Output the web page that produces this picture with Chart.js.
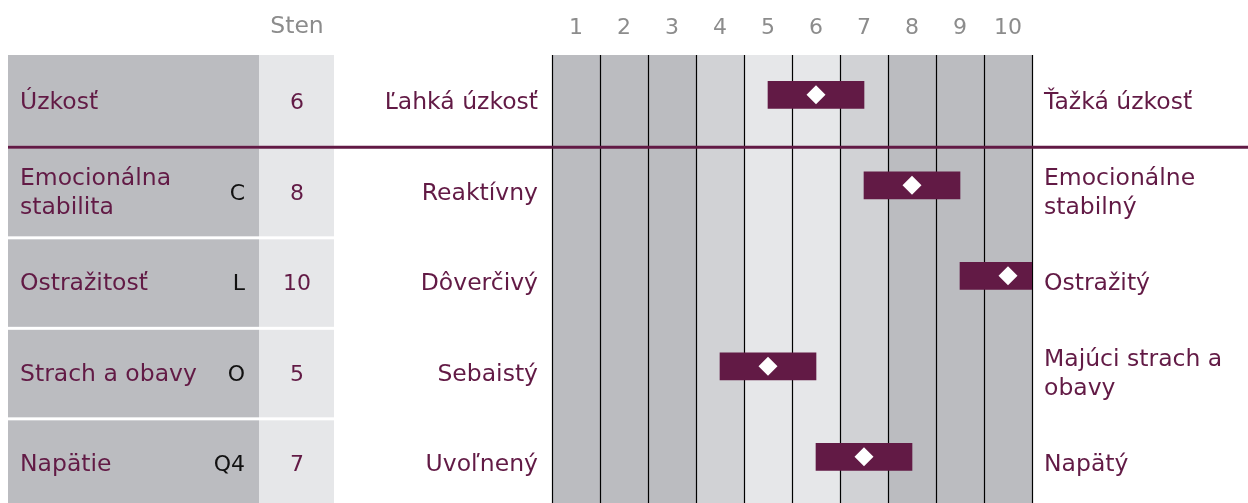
<!DOCTYPE html>
<html>
<head>
<meta charset="utf-8">
<script src="https://cdn.jsdelivr.net/npm/chart.js@4.4.0/dist/chart.umd.min.js"></script>
<style>
    html, body { margin: 0; padding: 0; background: #fff; }
    #wrap { width: 1248px; height: 503px; }
</style>
</head>
<body>
<div id="wrap"><canvas id="grafSten" width="1248" height="503"></canvas></div>
<script>
// Dados do perfil
const traits = [['Úzkosť'], ['Emocionálna', 'stabilita'], ['Ostražitosť'], ['Strach a obavy'], ['Napätie']];
const codes = ['', 'C', 'L', 'O', 'Q4'];
const stens = [6, 8, 10, 5, 7];
const bandFrom = [5, 7, 9, 4, 6];
const bandTo = [7, 9, 11, 6, 8];
const lowLabels = [['Ľahká úzkosť'], ['Reaktívny'], ['Dôverčivý'], ['Sebaistý'], ['Uvoľnený']];
const highLabels = [['Ťažká úzkosť'], ['Emocionálne', 'stabilný'], ['Ostražitý'], ['Majúci strach a', 'obavy'], ['Napätý']];
const stenTicks = [1, 2, 3, 4, 5, 6, 7, 8, 9, 10];
const headerLabel = 'Sten';

// Estilos
const MAROON = '#621a45';
const DARK = '#bbbcc0', MID = '#d1d2d5', LIGHT = '#e6e7e9';
const columnShades = [DARK, DARK, DARK, MID, LIGHT, LIGHT, MID, DARK, DARK, DARK];
const FONT_TXT = '23.5px "DejaVu Sans", Verdana, sans-serif';
const FONT_NUM = '22px "DejaVu Sans", Verdana, sans-serif';

// Plugin que desenha a tabela, faixas e textos
const tabelaPlugin = {
    id: 'tabela',
    beforeDatasetsDraw(chart) {
        const ctx = chart.ctx;
        const xs = chart.scales.x;
        const ys = chart.scales.y;
        const area = chart.chartArea;
        const last = traits.length - 1;

        function rowTop(i) {
            return i === 0 ? area.top : ys.getPixelForValue(i - 0.42) + 1.5;
        }
        function rowBottom(i) {
            return i === last ? area.bottom : ys.getPixelForValue(i + 0.58) - 1.5;
        }

        ctx.save();

        // faixas das colunas
        stenTicks.forEach((v, k) => {
            const l = xs.getPixelForValue(v - 0.5);
            const r = xs.getPixelForValue(v + 0.5);
            ctx.fillStyle = columnShades[k];
            ctx.fillRect(l, area.top, r - l, area.bottom - area.top);
        });

        // linhas verticais
        ctx.strokeStyle = '#000';
        ctx.lineWidth = 1.2;
        for (let k = 0; k <= stenTicks.length; k++) {
            const px = Math.round(xs.getPixelForValue(stenTicks[0] - 0.5 + k)) + 0.5;
            ctx.beginPath();
            ctx.moveTo(px, area.top);
            ctx.lineTo(px, area.bottom);
            ctx.stroke();
        }

        // tabela da esquerda
        traits.forEach((t, i) => {
            const top = rowTop(i), bottom = rowBottom(i);
            ctx.fillStyle = DARK;
            ctx.fillRect(8, top, 251, bottom - top);
            ctx.fillStyle = LIGHT;
            ctx.fillRect(259, top, 75, bottom - top);
        });

        // linha separadora
        const sepY = ys.getPixelForValue(0.58);
        ctx.strokeStyle = MAROON;
        ctx.lineWidth = 3;
        ctx.beginPath();
        ctx.moveTo(8, sepY);
        ctx.lineTo(chart.width, sepY);
        ctx.stroke();

        // textos
        ctx.textBaseline = 'middle';

        function linhas(arr, x, yc, align, color, font) {
            ctx.font = font;
            ctx.textAlign = align;
            ctx.fillStyle = color;
            arr.forEach((s, k) => {
                const off = (k - (arr.length - 1) / 2) * 29;
                ctx.fillText(s, x, yc + off);
            });
        }

        traits.forEach((t, i) => {
            const yc = ys.getPixelForValue(i) + 8.5;
            linhas(t, 20, yc, 'left', MAROON, FONT_TXT);
            linhas([codes[i]], 245, yc, 'right', '#111', FONT_NUM);
            linhas([String(stens[i])], 297, yc, 'center', MAROON, FONT_NUM);
            linhas(lowLabels[i], 538, yc, 'right', MAROON, FONT_TXT);
            linhas(highLabels[i], 1044, yc, 'left', MAROON, FONT_TXT);
        });

        // cabeçalho
        ctx.fillStyle = '#8c8c8c';
        ctx.textAlign = 'center';
        ctx.font = FONT_TXT;
        ctx.fillText(headerLabel, 297, 27);
        ctx.font = FONT_NUM;
        stenTicks.forEach(v => {
            ctx.fillText(String(v), xs.getPixelForValue(v), 28);
        });

        ctx.restore();
    }
};

const config = {
    type: 'bar',
    data: {
        datasets: [
            {
                type: 'scatter',
                data: stens.map((s, i) => ({ x: s, y: i })),
                pointStyle: 'rectRot',
                pointRadius: 9.5,
                pointHoverRadius: 9.5,
                backgroundColor: '#ffffff',
                borderWidth: 0,
                order: 0
            },
            {
                type: 'bar',
                indexAxis: 'y',
                data: bandFrom.map((f, i) => ({ x: [f, bandTo[i]], y: i })),
                backgroundColor: MAROON,
                barThickness: 27,
                borderSkipped: false,
                borderWidth: 0,
                clip: 0,
                order: 1
            }
        ]
    },
    options: {
        indexAxis: 'y',
        responsive: false,
        animation: false,
        layout: { autoPadding: false, padding: { left: 552, right: 216, top: 55, bottom: 0 } },
        plugins: {
            legend: { display: false },
            tooltip: { enabled: false }
        },
        scales: {
            x: { type: 'linear', min: 0.5, max: 10.5, offset: false, display: false },
            y: { type: 'linear', min: -0.44, max: 4.51, reverse: true, offset: false, display: false }
        }
    },
    plugins: [tabelaPlugin]
};

const ctx = document.getElementById('grafSten').getContext('2d');
const grafico = new Chart(ctx, config);
</script>
</body>
</html>
